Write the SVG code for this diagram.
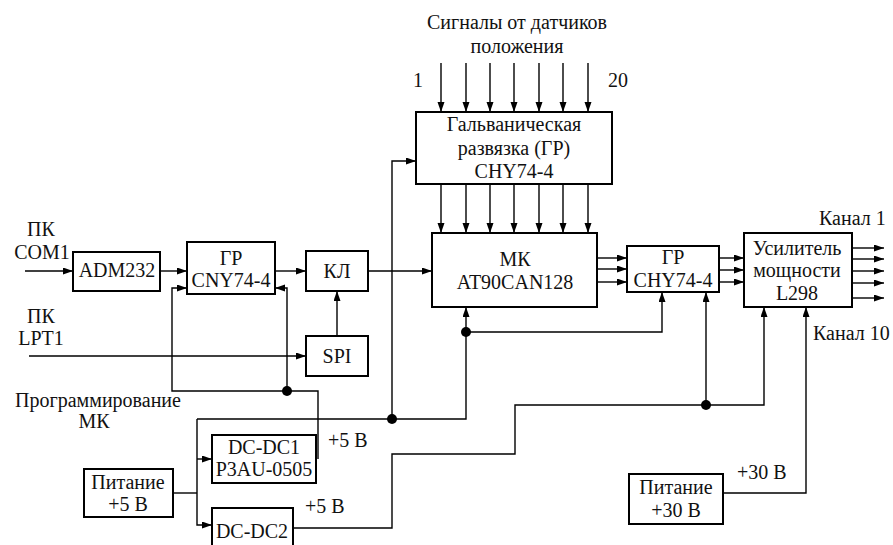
<svg xmlns="http://www.w3.org/2000/svg" width="893" height="545" viewBox="0 0 893 545" font-family="Liberation Serif">
<defs>
<marker id="ah" markerUnits="userSpaceOnUse" markerWidth="11" markerHeight="8" refX="10" refY="3.5" orient="auto">
<path d="M0,0 L10,3.5 L0,7 z" fill="#000"/>
</marker>
<style>
.box{fill:#fff;stroke:#000;stroke-width:2}
.ln{fill:none;stroke:#000;stroke-width:1.4}
.ar{fill:none;stroke:#000;stroke-width:1.4;marker-end:url(#ah)}
.t{font-family:'Liberation Serif',serif;font-size:20px;fill:#111}
.c{text-anchor:middle}
</style>
</defs>
<rect width="893" height="545" fill="#fff"/>

<g id="connectors">
<path class="ar" d="M25,271 H73"/>
<path class="ar" d="M160,271 H187"/>
<path class="ar" d="M275,271 H306"/>
<path class="ar" d="M368,271 H432"/>
<path class="ar" d="M29,356 H306"/>
<path class="ar" d="M337,336 V291"/>
<path class="ar" d="M318,459 V391 H172 V288 H187"/>
<path class="ar" d="M287,391 V288 H275"/>
<path class="ln" d="M173,493 H197"/>
<path class="ar" d="M197,419 V525 H212"/>
<path class="ar" d="M197,459 H212"/>
<path class="ar" d="M197,419 H466 V307"/>
<path class="ar" d="M392,419 V161 H416"/>
<path class="ar" d="M466,332 H662 V292"/>
<path class="ar" d="M441,63 V112"/>
<path class="ar" d="M466,63 V112"/>
<path class="ar" d="M490,63 V112"/>
<path class="ar" d="M514,63 V112"/>
<path class="ar" d="M539,63 V112"/>
<path class="ar" d="M563,63 V112"/>
<path class="ar" d="M588,63 V112"/>
<path class="ar" d="M441,184 V233"/>
<path class="ar" d="M466,184 V233"/>
<path class="ar" d="M490,184 V233"/>
<path class="ar" d="M514,184 V233"/>
<path class="ar" d="M539,184 V233"/>
<path class="ar" d="M563,184 V233"/>
<path class="ar" d="M588,184 V233"/>
<path class="ar" d="M597,258 H627"/>
<path class="ar" d="M597,269 H627"/>
<path class="ar" d="M597,282 H627"/>
<path class="ar" d="M719,258 H744"/>
<path class="ar" d="M719,270 H744"/>
<path class="ar" d="M719,282 H744"/>
<path class="ar" d="M852,248 H884"/>
<path class="ar" d="M852,259 H884"/>
<path class="ar" d="M852,271 H884"/>
<path class="ar" d="M852,283 H884"/>
<path class="ar" d="M852,298 H884"/>
<path class="ar" d="M293,528 H392 V454 H515 V405 H764 V307"/>
<path class="ar" d="M706,405 V292"/>
<path class="ar" d="M723,493 H806 V307"/>
<circle cx="287" cy="391" r="5"/>
<circle cx="392" cy="419" r="5"/>
<circle cx="466" cy="332" r="5"/>
<circle cx="706" cy="405" r="5"/>
</g>

<g id="labels">
<text class="t c" x="517" y="29">Сигналы от датчиков</text>
<text class="t c" x="517" y="53">положения</text>
<text class="t c" x="418" y="87">1</text>
<text class="t c" x="618" y="87">20</text>
<text class="t c" x="41" y="236">ПК</text>
<text class="t c" x="42" y="259">COM1</text>
<text class="t c" x="41" y="323">ПК</text>
<text class="t c" x="41" y="345">LPT1</text>
<text class="t c" x="98" y="407">Программирование</text>
<text class="t c" x="94" y="428">МК</text>
<text class="t" x="328" y="447">+5 В</text>
<text class="t" x="305" y="513">+5 В</text>
<text class="t" x="737" y="479">+30 В</text>
<text class="t" x="819" y="225">Канал 1</text>
<text class="t" x="813" y="340">Канал 10</text>
</g>

<g id="adm232"><rect class="box" x="73" y="252" width="87" height="39"/><text class="t c" x="117" y="277">ADM232</text></g>
<g id="gr1"><rect class="box" x="187" y="242" width="88" height="52"/><text class="t c" x="231" y="265">ГР</text><text class="t c" x="231" y="287">CNY74-4</text></g>
<g id="kl"><rect class="box" x="306" y="251" width="62" height="40"/><text class="t c" x="337" y="278">КЛ</text></g>
<g id="spi"><rect class="box" x="306" y="336" width="62" height="40"/><text class="t c" x="337" y="363">SPI</text></g>
<g id="galv"><rect class="box" x="416" y="112" width="196" height="72"/><text class="t c" x="514" y="131">Гальваническая</text><text class="t c" x="514" y="155">развязка (ГР)</text><text class="t c" x="514" y="178">CHY74-4</text></g>
<g id="mk"><rect class="box" x="432" y="233" width="165" height="74"/><text class="t c" x="515" y="266">МК</text><text class="t c" x="515" y="289">AT90CAN128</text></g>
<g id="gr2"><rect class="box" x="627" y="246" width="92" height="46"/><text class="t c" x="673" y="264">ГР</text><text class="t c" x="673" y="287">CHY74-4</text></g>
<g id="amp"><rect class="box" x="744" y="233" width="108" height="74"/><text class="t c" x="797" y="255">Усилитель</text><text class="t c" x="797" y="277">мощности</text><text class="t c" x="797" y="300">L298</text></g>
<g id="pit5"><rect class="box" x="84" y="469" width="89" height="48"/><text class="t c" x="128" y="489">Питание</text><text class="t c" x="128" y="511">+5 В</text></g>
<g id="dcdc1"><rect class="box" x="212" y="435" width="104" height="48"/><text class="t c" x="264" y="454">DC-DC1</text><text class="t c" x="264" y="476">P3AU-0505</text></g>
<g id="dcdc2"><rect class="box" x="212" y="508" width="81" height="48"/><text class="t c" x="252" y="538">DC-DC2</text></g>
<g id="pit30"><rect class="box" x="629" y="474" width="94" height="50"/><text class="t c" x="676" y="494">Питание</text><text class="t c" x="676" y="517">+30 В</text></g>
</svg>
